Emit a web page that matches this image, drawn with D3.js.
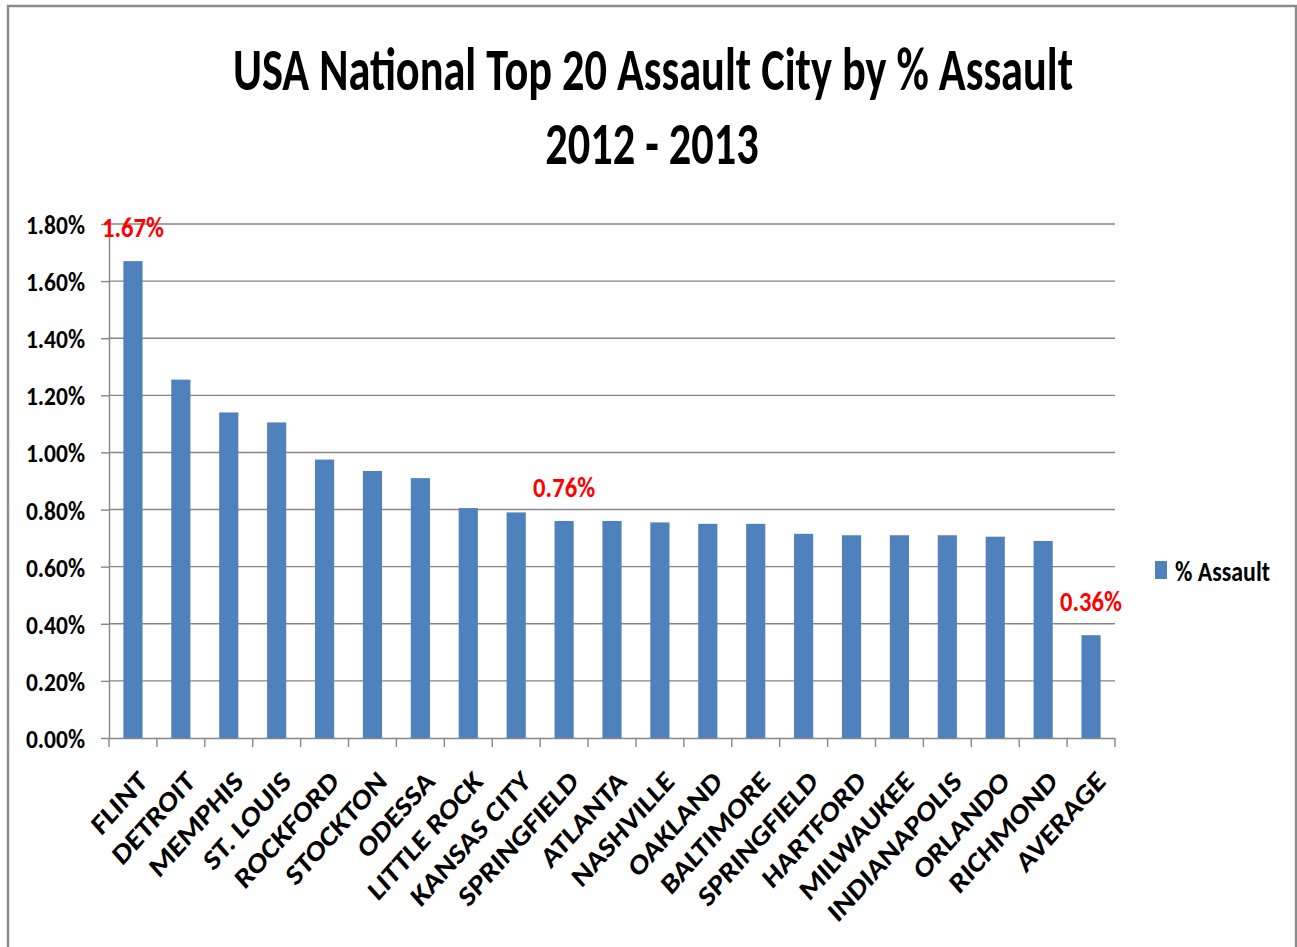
<!DOCTYPE html>
<html>
<head>
<meta charset="utf-8">
<script src="https://cdn.jsdelivr.net/npm/d3@7"></script>
<style>
  body { margin: 0; background: #ffffff; }
  svg { display: block; }
  text { font-family: 'Carlito', 'Open Sans', sans-serif; font-weight: bold; }
</style>
</head>
<body>
<svg id="chart" width="1297" height="947"></svg>
<script>
const categories = ["FLINT", "DETROIT", "MEMPHIS", "ST. LOUIS", "ROCKFORD", "STOCKTON", "ODESSA",
  "LITTLE ROCK", "KANSAS CITY", "SPRINGFIELD", "ATLANTA", "NASHVILLE", "OAKLAND", "BALTIMORE",
  "SPRINGFIELD", "HARTFORD", "MILWAUKEE", "INDIANAPOLIS", "ORLANDO", "RICHMOND", "AVERAGE"];
const values = [1.67, 1.255, 1.14, 1.105, 0.975, 0.935, 0.91, 0.805, 0.79, 0.76, 0.76,
  0.755, 0.75, 0.75, 0.715, 0.71, 0.71, 0.71, 0.705, 0.69, 0.36];
const labeledIndex = [0, 9, 20];
const labeledText = ["1.67%", "0.76%", "0.36%"];
const yTickValues = [0, 0.2, 0.4, 0.6, 0.8, 1.0, 1.2, 1.4, 1.6, 1.8];
const yTickLabels = ["0.00%", "0.20%", "0.40%", "0.60%", "0.80%", "1.00%", "1.20%", "1.40%", "1.60%", "1.80%"];
const seriesName = "% Assault";
const titleLines = ["USA National Top 20 Assault City by % Assault", "2012 - 2013"];

const barColor = "#4F81BD";
const gridColor = "#868686";
const labelRed = "#FF0000";

function draw() {
  const svg = d3.select("#chart");
  const CAP = 0.644;

  // returns {fs, sx} so text has cap height `cap` and width `w` for `ref`
  function fit(ref, w, cap) {
    const fs = cap / CAP;
    const t = svg.append("text").attr("font-size", fs).text(ref);
    const len = t.node().getComputedTextLength();
    t.remove();
    return { fs: fs, sx: w / len };
  }

  // outer frame
  svg.append("rect")
    .attr("x", 8).attr("y", 6).attr("width", 1288).attr("height", 980)
    .attr("fill", "#ffffff").attr("stroke", "#8c8c8c").attr("stroke-width", 2.5);

  const x = d3.scaleBand()
    .domain(d3.range(categories.length))
    .range([109, 1115])
    .paddingInner(0.6)
    .paddingOuter(0.3);
  const y = d3.scaleLinear().domain([0, 1.8]).range([738, 224]);

  // title
  const tf = fit(titleLines[0], 840, 39);
  const titleY = [90, 164];
  const titleX = [653, 652];
  titleLines.forEach((s, i) => {
    svg.append("text")
      .attr("text-anchor", "middle")
      .attr("font-size", tf.fs)
      .attr("fill", "#000")
      .attr("transform", `translate(${titleX[i]},${titleY[i]}) scale(${tf.sx},1)`)
      .text(s);
  });

  // gridlines
  svg.append("g").selectAll("line")
    .data(yTickValues.filter(d => d > 0))
    .join("line")
    .attr("x1", x.range()[0]).attr("x2", x.range()[1])
    .attr("y1", d => y(d)).attr("y2", d => y(d))
    .attr("stroke", gridColor).attr("stroke-width", 1.4);

  // bars
  svg.append("g").selectAll("rect")
    .data(values)
    .join("rect")
    .attr("x", (d, i) => x(i))
    .attr("width", x.bandwidth())
    .attr("y", d => y(d))
    .attr("height", d => y(0) - y(d))
    .attr("fill", barColor);

  // y axis
  const yf = fit("1.80%", 59, 17);
  const yAxis = svg.append("g")
    .attr("transform", `translate(${x.range()[0]},0)`)
    .call(d3.axisLeft(y).tickValues(yTickValues).tickFormat((d, i) => yTickLabels[i]).tickSize(8).tickSizeOuter(0));
  yAxis.select(".domain").attr("stroke", gridColor).attr("stroke-width", 1.4);
  yAxis.selectAll(".tick line").attr("stroke", gridColor).attr("stroke-width", 1.4);
  yAxis.selectAll(".tick text")
    .attr("x", null).attr("dy", null)
    .attr("font-size", yf.fs)
    .attr("font-family", null)
    .attr("fill", "#000")
    .attr("text-anchor", "end")
    .attr("transform", `translate(-24,9.5) scale(${yf.sx},1)`);

  // x axis
  const xAxis = svg.append("g")
    .attr("transform", `translate(0,${y(0)})`)
    .call(d3.axisBottom(x).tickSize(0).tickSizeOuter(0).tickFormat(() => ""));
  xAxis.select(".domain").attr("stroke", gridColor).attr("stroke-width", 1.4);
  const boundaries = d3.range(categories.length + 1).map(i => x.range()[0] + i * x.step());
  xAxis.append("g").selectAll("line")
    .data(boundaries)
    .join("line")
    .attr("x1", d => d).attr("x2", d => d)
    .attr("y1", 0).attr("y2", 9)
    .attr("stroke", gridColor).attr("stroke-width", 1.4);

  // category labels
  const xf = fit("SPRINGFIELD", 158, 16.5);
  svg.append("g").selectAll("text")
    .data(categories)
    .join("text")
    .attr("text-anchor", "end")
    .attr("font-size", xf.fs)
    .attr("fill", "#000")
    .attr("transform", (d, i) => `translate(${x(i) + x.bandwidth() / 2 + 16},783) scale(1,1.12) rotate(-45) scale(${xf.sx},1)`)
    .text(d => d);

  // data labels
  const df = fit("1.67%", 62, 18);
  svg.append("g").selectAll("text")
    .data(labeledIndex)
    .join("text")
    .attr("text-anchor", "middle")
    .attr("font-size", df.fs)
    .attr("fill", labelRed)
    .attr("transform", d => `translate(${x(d) + x.bandwidth() / 2},${y(values[d]) - 24}) scale(${df.sx},1)`)
    .text((d, i) => labeledText[i]);

  // legend
  svg.append("rect")
    .attr("x", 1155).attr("y", 561).attr("width", 12).attr("height", 18)
    .attr("fill", barColor);
  const lf = fit(seriesName, 95, 18);
  svg.append("text")
    .attr("font-size", lf.fs)
    .attr("fill", "#000")
    .attr("transform", `translate(1175,581) scale(${lf.sx},1)`)
    .text(seriesName);
}

if (document.fonts && document.fonts.ready) {
  document.fonts.ready.then(draw);
} else {
  draw();
}
</script>
</body>
</html>
